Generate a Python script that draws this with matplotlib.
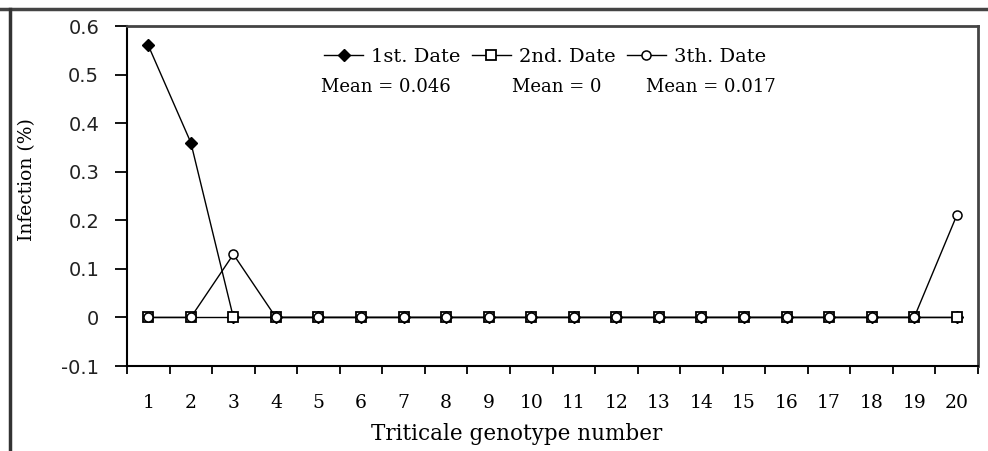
import matplotlib
matplotlib.use('Agg')
import matplotlib.pyplot as plt
from matplotlib.lines import Line2D
import numpy as np

genotypes = list(range(1, 21))
date1 = [0.56, 0.36, 0, 0, 0, 0, 0, 0, 0, 0, 0, 0, 0, 0, 0, 0, 0, 0, 0, 0]
date2 = [0] * 20
date3 = [0, 0, 0.13, 0, 0, 0, 0, 0, 0, 0, 0, 0, 0, 0, 0, 0, 0, 0, 0, 0.21]
series_names = ['1st. Date', '2nd. Date', '3th. Date']
mean_labels = ['Mean = 0.046', 'Mean = 0', 'Mean = 0.017']
yticks = [-0.1, 0, 0.1, 0.2, 0.3, 0.4, 0.5, 0.6]

serif = 'DejaVu Serif'
W, H = 988, 451

fig = plt.figure(figsize=(W / 100, H / 100), dpi=100)
ax = fig.add_axes([127 / W, 1 - 366 / H, (978 - 127) / W, (366 - 26) / H])

x = np.arange(len(genotypes)) + 0.5
ax.plot(x, date1, color='black', lw=1, marker='D', ms=6,
        mfc='black', mec='black', label=series_names[0], zorder=3)
ax.plot(x, date2, color='black', lw=1, marker='s', ms=7.5,
        mfc='white', mec='black', mew=1.3, label=series_names[1], zorder=4)
ax.plot(x, date3, color='black', lw=1, marker='o', ms=6.5,
        mfc='white', mec='black', mew=1.1, label=series_names[2], zorder=5)

ax.set_xlim(0, len(genotypes))
ax.set_ylim(-0.1, 0.6)

# category axis: ticks at boundaries, labels centred
ax.set_xticks(np.arange(len(genotypes) + 1))
ax.set_xticklabels([])
ax.set_xticks(x, minor=True)
ax.set_xticklabels([str(g) for g in genotypes], minor=True,
                   fontfamily=serif, fontsize=13.5)
ax.tick_params(axis='x', which='major', direction='out', length=6,
               width=1.3, color='black')
ax.tick_params(axis='x', which='minor', length=0, pad=20)

ax.set_yticks(yticks)
ax.set_yticklabels(['%g' % v for v in yticks], fontfamily='DejaVu Sans',
                   fontsize=14, color='#222222')
ax.tick_params(axis='y', direction='out', length=9, width=1.3, pad=11)

for side in ['left', 'bottom']:
    ax.spines[side].set_color('black')
    ax.spines[side].set_linewidth(1.5)
for side in ['top', 'right']:
    ax.spines[side].set_color('#444444')
    ax.spines[side].set_linewidth(2)

ax.set_xlabel('Triticale genotype number', fontfamily=serif, fontsize=15.5)
ax.xaxis.set_label_coords((517 - 127) / 851, -(423 - 366) / 340)
ax.set_ylabel('Infection (%)', fontfamily=serif, fontsize=13.5)
ax.yaxis.set_label_coords(-(127 - 36) / 851, (366 - 180) / 340)

leg = ax.legend(loc='center', bbox_to_anchor=(545 / W, 1 - 57 / H),
                bbox_transform=fig.transFigure, ncol=3, frameon=False,
                prop={'family': serif, 'size': 14}, handlelength=2.0,
                handletextpad=0.4, columnspacing=0.6)

mean_x = [386, 557, 711]
for mx, txt in zip(mean_x, mean_labels):
    fig.text(mx / W, 1 - 87 / H, txt, ha='center', va='center',
             fontfamily=serif, fontsize=13)

# outer frame (top and left edges of the cropped picture)
fig.add_artist(Line2D([0, 1], [1 - 8.5 / H, 1 - 8.5 / H],
                      transform=fig.transFigure, color='#444444', lw=2.5))
fig.add_artist(Line2D([10 / W, 10 / W], [0, 1 - 8.5 / H],
                      transform=fig.transFigure, color='#333333', lw=2.5))

fig.savefig('out.png', dpi=100)
